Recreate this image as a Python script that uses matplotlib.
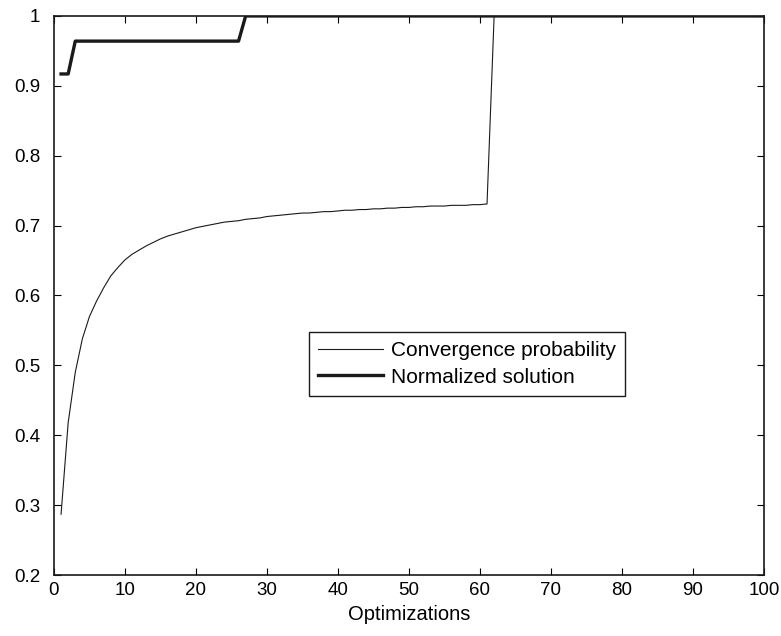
import matplotlib
matplotlib.use("Agg")
import matplotlib.pyplot as plt

plt.rcParams['font.family'] = ['Liberation Sans', 'DejaVu Sans']

optimizations = list(range(1, 101))
convergence_probability = [
    0.287, 0.418, 0.490, 0.538, 0.570, 0.592, 0.611, 0.628, 0.640, 0.651,
    0.659, 0.665, 0.671, 0.676, 0.681, 0.685, 0.688, 0.691, 0.694, 0.697,
    0.699, 0.701, 0.703, 0.705, 0.706, 0.707, 0.709, 0.710, 0.711, 0.713,
    0.714, 0.715, 0.716, 0.717, 0.718, 0.718, 0.719, 0.720, 0.720, 0.721,
    0.722, 0.722, 0.723, 0.723, 0.724, 0.724, 0.725, 0.725, 0.726, 0.726,
    0.727, 0.727, 0.728, 0.728, 0.728, 0.729, 0.729, 0.729, 0.730, 0.730,
    0.731,
] + [1.0] * 39
normalized_solution = [0.917, 0.917] + [0.964] * 24 + [1.0] * 74

xticks = list(range(0, 101, 10))
yticks = [0.2, 0.3, 0.4, 0.5, 0.6, 0.7, 0.8, 0.9, 1.0]
yticklabels = ['0.2', '0.3', '0.4', '0.5', '0.6', '0.7', '0.8', '0.9', '1']

fig = plt.figure(figsize=(7.81, 6.36), dpi=100)
ax = fig.add_axes([0.0691, 0.0959, 0.909, 0.879])
ax.plot(optimizations, convergence_probability, color='#1a1a1a', lw=0.8,
        label='Convergence probability')
ax.plot(optimizations, normalized_solution, color='#1a1a1a', lw=2.4,
        label='Normalized solution')
ax.set_xlim(0, 100)
ax.set_ylim(0.2, 1.0)
ax.set_xticks(xticks)
ax.set_yticks(yticks)
ax.set_yticklabels(yticklabels)
ax.tick_params(direction='in', top=True, right=True, labelsize=13.5, length=5, width=0.8)
ax.tick_params(axis='y', pad=10)
ax.tick_params(axis='x', pad=5)
for s in ax.spines.values():
    s.set_linewidth(1.2)
    s.set_color('#1a1a1a')
ax.set_xlabel('Optimizations', fontsize=14.5, labelpad=4)
leg = ax.legend(loc='lower left', bbox_to_anchor=(0.359, 0.320), fontsize=15,
                fancybox=False, edgecolor='#1a1a1a', framealpha=1,
                handlelength=3.1, borderpad=0.45, labelspacing=0.35, handletextpad=0.4,
                borderaxespad=0)
leg.get_frame().set_linewidth(1.0)
fig.savefig('out.png', dpi=100)
